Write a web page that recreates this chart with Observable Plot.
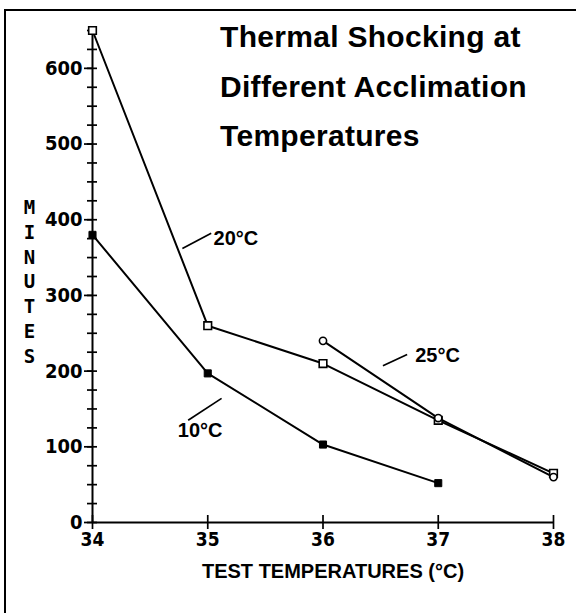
<!DOCTYPE html>
<html>
<head>
<meta charset="utf-8">
<script src="https://cdn.jsdelivr.net/npm/d3@7"></script>
<script src="https://cdn.jsdelivr.net/npm/@observablehq/plot@0.6"></script>
<style>
  html, body { margin: 0; padding: 0; background: #fff; }
  #wrap { position: relative; width: 576px; height: 613px; overflow: hidden; background: #fff; }
  #border { position: absolute; left: 4px; top: 9px; right: -10px; bottom: -10px;
            border-top: 2.5px solid #000; border-left: 2.5px solid #000; }
  #title { position: absolute; left: 220px; top: 12px; font-family: "Liberation Sans", Arial, sans-serif;
           font-weight: bold; font-size: 30px; line-height: 49.5px; color: #000; letter-spacing: 0.3px; }
  #chart { position: absolute; left: 0; top: 0; }
</style>
</head>
<body>
<div id="wrap">
  <div id="border"></div>
  <div id="chart"></div>
  <div id="title">Thermal Shocking at<br>Different Acclimation<br>Temperatures</div>
</div>
<script>
// Data
const temps10 = [34, 35, 36, 37];
const minutes10 = [380, 197, 103, 52];
const temps20 = [34, 35, 36, 37, 38];
const minutes20 = [650, 260, 210, 135, 65];
const temps25 = [36, 37, 38];
const minutes25 = [240, 138, 60];

const xTicks = [34, 35, 36, 37, 38];
const yMajorTicks = [0, 100, 200, 300, 400, 500, 600];
const yMinorTicks = d3.range(0, 651, 25);

const seriesNames = ["10°C", "20°C", "25°C"];
const yTitle = "MINUTES";
const xTitle = "TEST TEMPERATURES (°C)";

// Annotation labels and leader lines (data coordinates)
const labelText = ["20°C", "10°C", "25°C"];
const labelX = [35.05, 34.74, 36.80];
const labelY = [375, 121, 221];
const leaderX1 = [34.78, 34.83, 36.52];
const leaderY1 = [362, 135, 207];
const leaderX2 = [35.03, 35.12, 36.73];
const leaderY2 = [382, 164, 222];

const rows = [
  ...temps10.map((t, i) => ({series: seriesNames[0], temp: t, minutes: minutes10[i]})),
  ...temps20.map((t, i) => ({series: seriesNames[1], temp: t, minutes: minutes20[i]})),
  ...temps25.map((t, i) => ({series: seriesNames[2], temp: t, minutes: minutes25[i]}))
];
const labels = labelText.map((t, i) => ({text: t, x: labelX[i], y: labelY[i]}));
const leaders = labelText.map((t, i) => ({x1: leaderX1[i], y1: leaderY1[i], x2: leaderX2[i], y2: leaderY2[i]}));

const narrow = "'Liberation Sans Narrow', 'DejaVu Sans Condensed', 'Liberation Sans', sans-serif";
const mono = "'DejaVu Sans Mono', 'Liberation Mono', monospace";

const chart = Plot.plot({
  width: 576,
  height: 613,
  marginLeft: 92,
  marginRight: 23,
  marginTop: 30,
  marginBottom: 91,
  style: {background: "transparent", overflow: "visible"},
  x: {domain: [34, 38]},
  y: {domain: [0, 650]},
  marks: [
    // axis lines
    Plot.ruleX([34], {y1: 0, y2: 650, stroke: "#000", strokeWidth: 2}),
    Plot.ruleY([0], {x1: 34, x2: 38, stroke: "#000", strokeWidth: 2}),
    // y ticks crossing the axis
    Plot.axisY({ticks: yMinorTicks, tickSize: 5, fill: "none", label: null, strokeWidth: 1.7}),
    Plot.axisY({ticks: yMinorTicks, tickSize: 5, dx: 5, fill: "none", label: null, strokeWidth: 1.7}),
    Plot.axisY({ticks: yMajorTicks, tickSize: 8, fill: "none", label: null, strokeWidth: 1.7}),
    // y tick labels
    Plot.text(yMajorTicks, {x: () => 34, y: d => d, text: d => String(d), textAnchor: "end", dx: -10,
      fontSize: 20, fontWeight: "bold", fontFamily: narrow, fill: "#000"}),
    // x ticks crossing the axis
    Plot.axisX({ticks: xTicks, tickSize: 7, tickPadding: 3, label: null, strokeWidth: 1.7,
      tickFormat: d => String(d), fontSize: 19, fontWeight: "bold", fontFamily: narrow, fill: "#000"}),
    Plot.axisX({ticks: xTicks, tickSize: 7, dy: -7, fill: "none", label: null, strokeWidth: 1.7}),
    // axis titles
    Plot.text([yTitle.split("").join("\n")], {frameAnchor: "left", dx: -63, dy: 4, textAnchor: "middle",
      lineHeight: 1.3, fontSize: 19, fontWeight: "bold", fontFamily: mono, fill: "#000"}),
    Plot.text([xTitle], {frameAnchor: "bottom", dx: 10, dy: 55, textAnchor: "middle",
      fontSize: 20, fontWeight: "bold", fontFamily: "'Liberation Sans', Arial, sans-serif", fill: "#000"}),
    // series lines
    Plot.line(rows, {x: "temp", y: "minutes", z: "series", stroke: "#000", strokeWidth: 2}),
    // markers
    Plot.dot(rows.filter(d => d.series === seriesNames[0]), {x: "temp", y: "minutes", symbol: "square", r: 4, fill: "#000", stroke: "#000", strokeWidth: 1}),
    Plot.dot(rows.filter(d => d.series === seriesNames[1]), {x: "temp", y: "minutes", symbol: "square", r: 4.3, fill: "#fff", stroke: "#000", strokeWidth: 1.6}),
    Plot.dot(rows.filter(d => d.series === seriesNames[2]), {x: "temp", y: "minutes", symbol: "circle", r: 3.6, fill: "#fff", stroke: "#000", strokeWidth: 1.6}),
    // annotations
    Plot.link(leaders, {x1: "x1", y1: "y1", x2: "x2", y2: "y2", stroke: "#000", strokeWidth: 1.7}),
    Plot.text(labels, {x: "x", y: "y", text: "text", textAnchor: "start", fontSize: 20, fontWeight: "bold",
      fontFamily: "'Liberation Sans', Arial, sans-serif", fill: "#000"})
  ]
});
document.getElementById("chart").appendChild(chart);
</script>
</body>
</html>
